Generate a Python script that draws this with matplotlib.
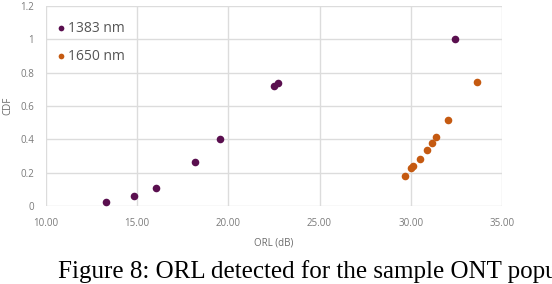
import matplotlib
matplotlib.use("Agg")
import matplotlib.pyplot as plt
from matplotlib.ticker import FuncFormatter

x_1383 = [13.29, 14.81, 16.02, 18.16, 19.53, 22.51, 22.71, 32.40]
y_1383 = [0.022, 0.058, 0.110, 0.262, 0.403, 0.720, 0.735, 1.000]
x_1650 = [29.69, 30.02, 30.12, 30.50, 30.90, 31.16, 31.41, 32.07, 33.66]
y_1650 = [0.180, 0.228, 0.240, 0.283, 0.335, 0.375, 0.415, 0.513, 0.744]

series_labels = ["1383 nm", "1650 nm"]
x_ticks = [10, 15, 20, 25, 30, 35]
y_ticks = [0, 0.2, 0.4, 0.6, 0.8, 1.0, 1.2]
x_label = "ORL (dB)"
y_label = "CDF"
caption = "Figure 8: ORL detected for the sample ONT population"

purple = "#5a0f4f"
orange = "#c55a11"
gray = "#6a6a6a"

fig = plt.figure(figsize=(5.52, 2.84), dpi=100)
ax = fig.add_axes([0.0833, 0.2746, 0.826, 0.7045])

ax.scatter(x_1383, y_1383, s=30, color=purple, label=series_labels[0], zorder=3, linewidths=0)
ax.scatter(x_1650, y_1650, s=30, color=orange, label=series_labels[1], zorder=3, linewidths=0)

ax.set_xlim(10, 35)
ax.set_ylim(0, 1.2)
ax.set_xticks(x_ticks)
ax.set_yticks(y_ticks)
ax.xaxis.set_major_formatter(FuncFormatter(lambda v, p: f"{v:.2f}"))
ax.yaxis.set_major_formatter(FuncFormatter(lambda v, p: f"{v:g}"))
ax.grid(True, color="#dcdcdc", linewidth=1.0, zorder=0)
ax.set_axisbelow(True)
for s in ax.spines.values():
    s.set_visible(False)
ax.tick_params(length=0, labelsize=7, labelcolor="#7a7a7a", pad=8.5)
for lbl in ax.get_xticklabels() + ax.get_yticklabels():
    lbl.set_fontfamily("Open Sans")
ax.set_xlabel(x_label, fontsize=7, color=gray, family="Open Sans")
ax.set_ylabel(y_label, fontsize=7, color=gray, family="Open Sans")
ax.xaxis.set_label_coords(0.5, -0.185)
ax.xaxis.label.set_va("center")
ax.yaxis.set_label_coords(-0.084, 0.5)
ax.yaxis.label.set_va("center")

leg = ax.legend(loc="upper left", bbox_to_anchor=(0.0175, 0.925), frameon=False,
                prop={"family": "Open Sans", "size": 10}, labelcolor="#555555",
                handlelength=1.0, handletextpad=0.0, labelspacing=0.95,
                markerscale=0.75, borderaxespad=0.0, borderpad=0.0)

fig.text(0.105, 0.021, caption, fontsize=18, family="Liberation Serif",
         color="black", va="baseline")

fig.savefig("out.png", dpi=100)
